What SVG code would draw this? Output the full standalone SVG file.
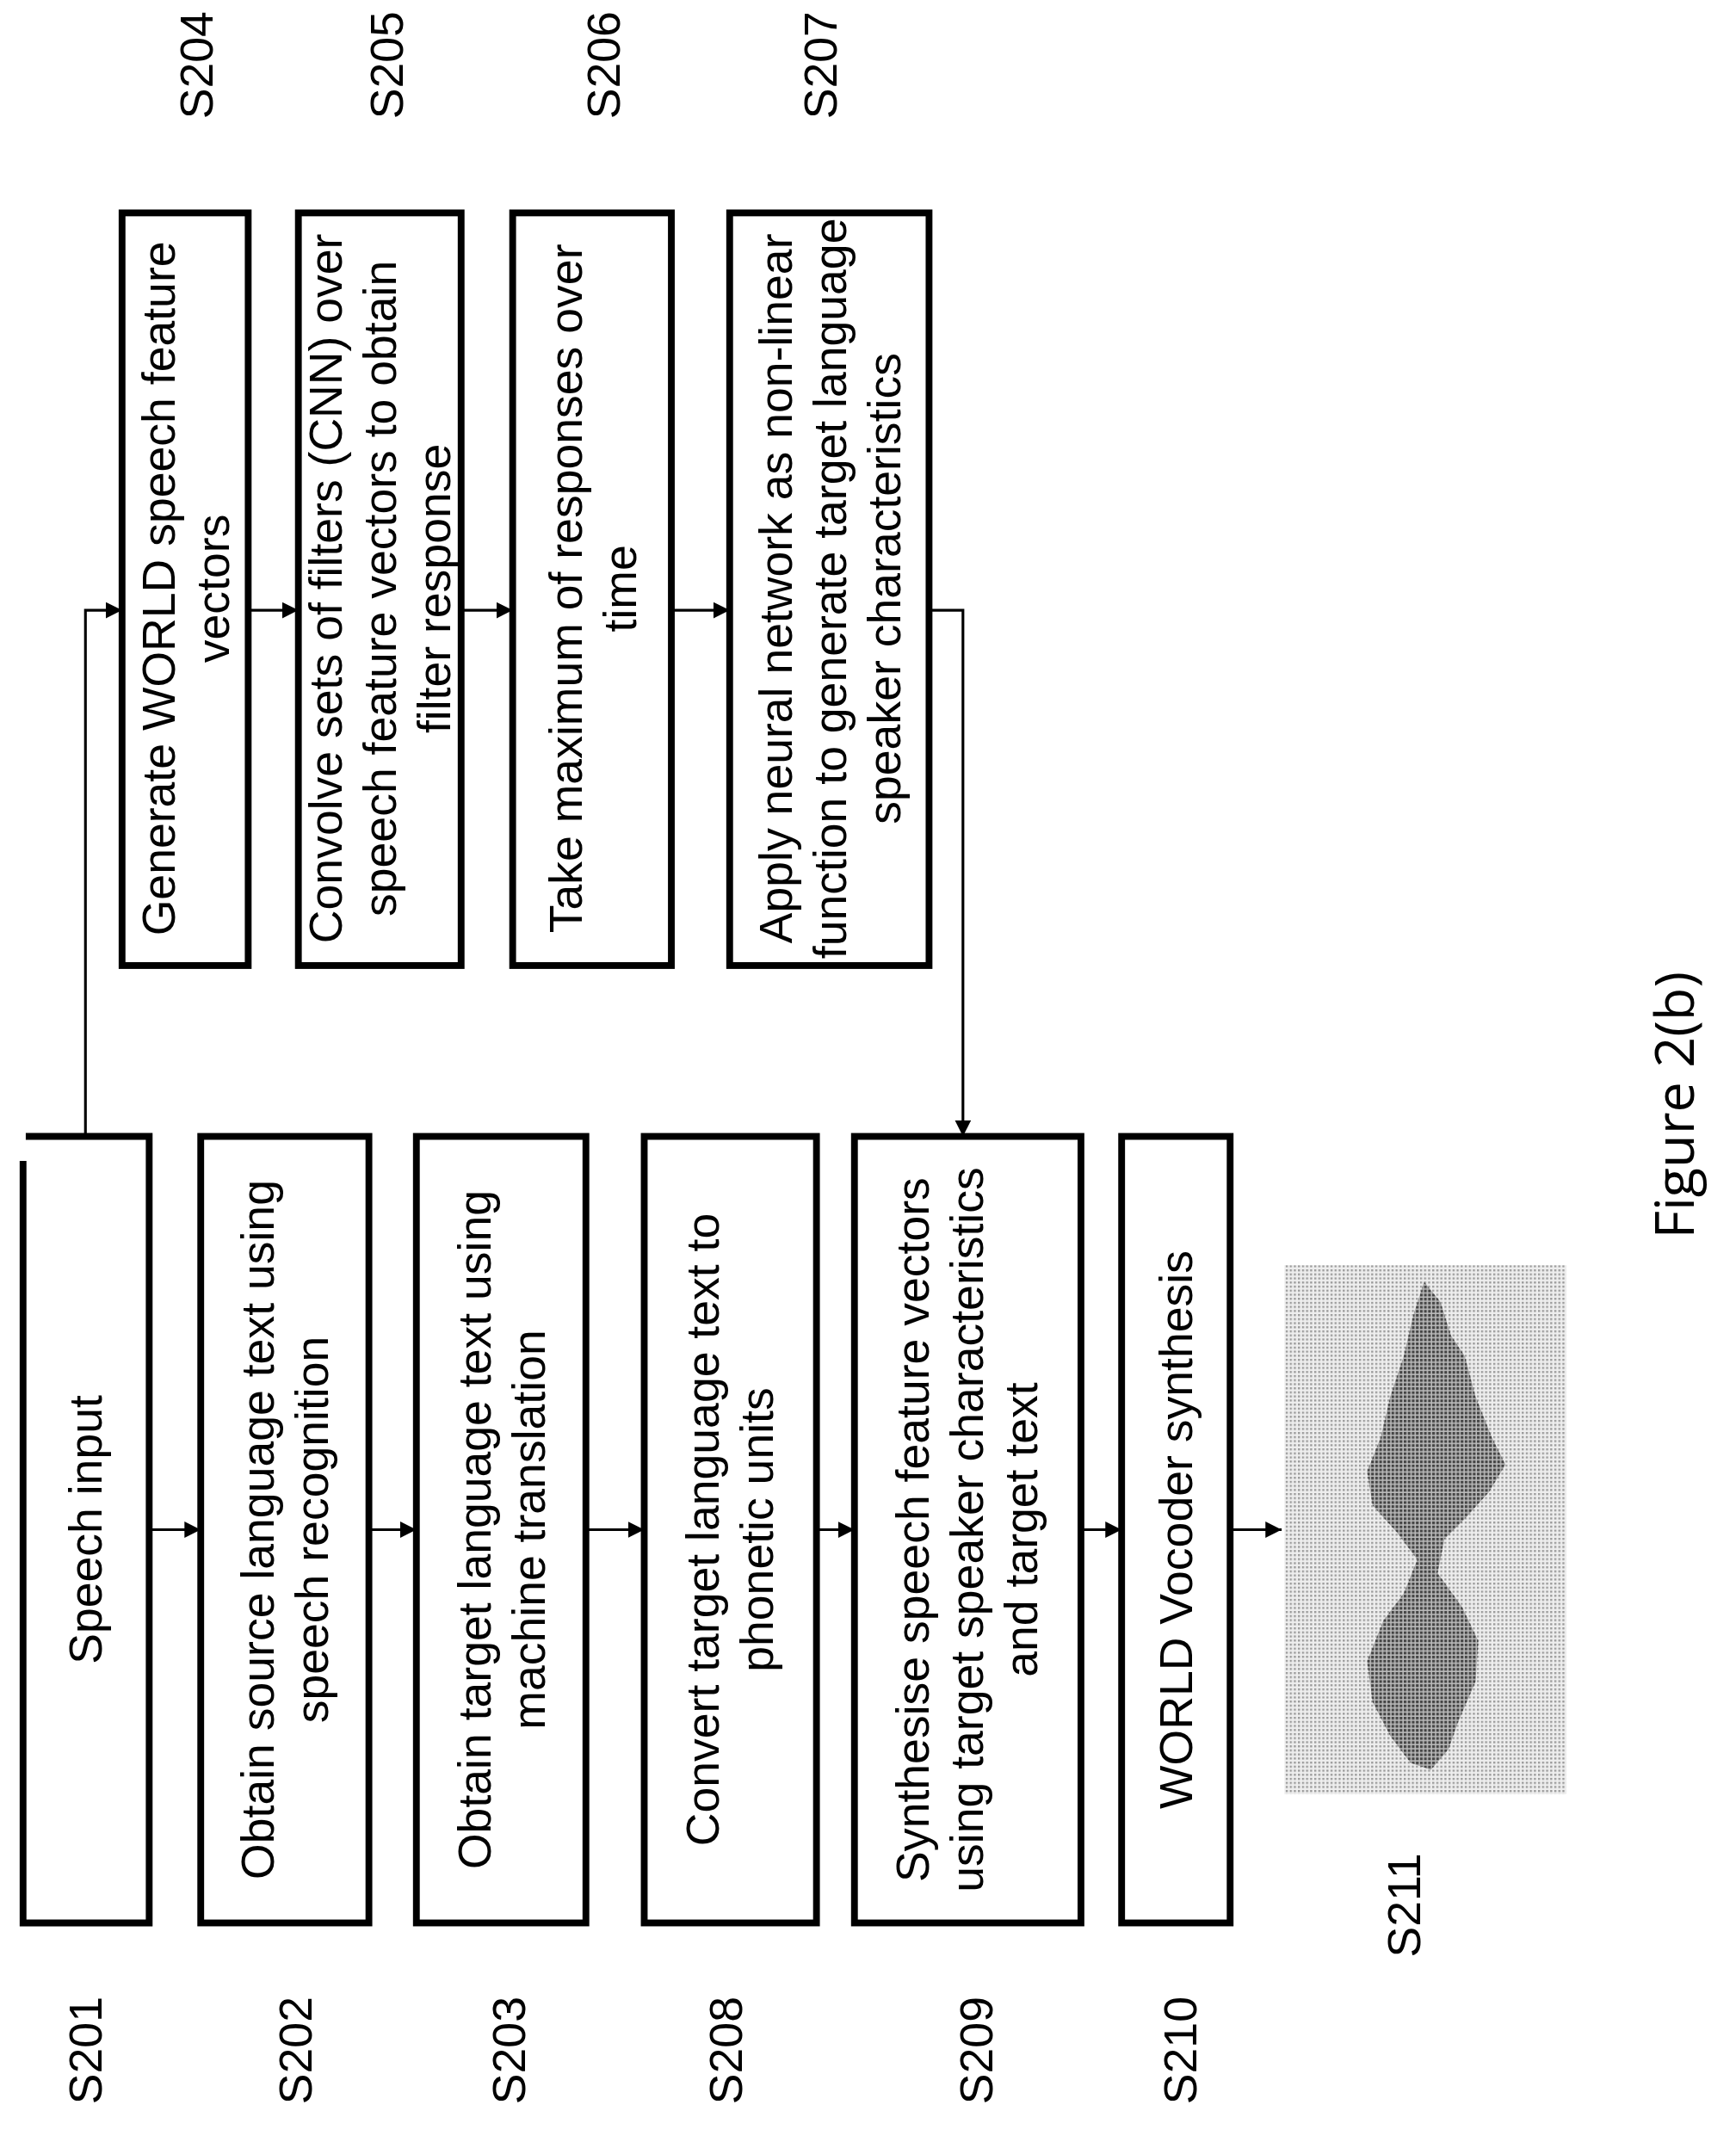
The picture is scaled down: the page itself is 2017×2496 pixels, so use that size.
<svg xmlns="http://www.w3.org/2000/svg" width="2017" height="2496" viewBox="0 0 2017 2496">
<style>
.b{fill:#fff;stroke:#000;stroke-width:5}
.t{font-family:"Liberation Sans",Arial,sans-serif;font-size:34px;text-anchor:middle;fill:#000}
.l{font-family:"Liberation Sans",Arial,sans-serif;font-size:34px;text-anchor:middle;fill:#000}
.c{fill:none;stroke:#000;stroke-width:2}
</style>
<defs>
<marker id="a" viewBox="0 0 10 10" refX="10" refY="5" markerWidth="12" markerHeight="12" markerUnits="userSpaceOnUse" orient="auto"><path d="M0,0L10,5L0,10z"/></marker>
<pattern id="dots" width="3" height="3" patternUnits="userSpaceOnUse"><rect width="3" height="3" fill="#eee"/><rect width="1.5" height="1.5" fill="#999"/></pattern>
<pattern id="dk" width="3" height="3" patternUnits="userSpaceOnUse"><rect width="3" height="3" fill="#bbb"/><rect width="2" height="2" fill="#444"/></pattern>
</defs>
<rect width="2017" height="2496" fill="#fff"/>
<g transform="scale(1.5758)">
<g id="connectors">
<path class="c" d="M63,838V450H90" marker-end="url(#a)"/>
<path class="c" d="M183,450H220" marker-end="url(#a)"/>
<path class="c" d="M340,450H378" marker-end="url(#a)"/>
<path class="c" d="M495,450H538" marker-end="url(#a)"/>
<path class="c" d="M685,450H710V838" marker-end="url(#a)"/>
<path class="c" d="M110,1128H148" marker-end="url(#a)"/>
<path class="c" d="M272,1128H307" marker-end="url(#a)"/>
<path class="c" d="M432,1128H475" marker-end="url(#a)"/>
<path class="c" d="M602,1128H630" marker-end="url(#a)"/>
<path class="c" d="M797,1128H827" marker-end="url(#a)"/>
<path class="c" d="M907,1128H945" marker-end="url(#a)"/>
</g>
<g id="S201"><path d="M19,838H110V1418H17V856" fill="#fff" stroke="#000" stroke-width="5"/>
<text class="t" transform="translate(63,1128) rotate(-90)" y="12">Speech input</text>
<text class="l" transform="translate(63,1512) rotate(-90)" y="12">S201</text></g>
<g id="S202"><rect class="b" x="148" y="838" width="124" height="580"/>
<text class="t" transform="translate(210,1128) rotate(-90)"><tspan x="0" y="-8">Obtain source language text using</tspan><tspan x="0" y="32">speech recognition</tspan></text>
<text class="l" transform="translate(218,1512) rotate(-90)" y="12">S202</text></g>
<g id="S203"><rect class="b" x="307" y="838" width="125" height="580"/>
<text class="t" transform="translate(370,1128) rotate(-90)"><tspan x="0" y="-8">Obtain target language text using</tspan><tspan x="0" y="32">machine translation</tspan></text>
<text class="l" transform="translate(375,1512) rotate(-90)" y="12">S203</text></g>
<g id="S208"><rect class="b" x="475" y="838" width="127" height="580"/>
<text class="t" transform="translate(538,1128) rotate(-90)"><tspan x="0" y="-8">Convert target language text to</tspan><tspan x="0" y="32">phonetic units</tspan></text>
<text class="l" transform="translate(535,1512) rotate(-90)" y="12">S208</text></g>
<g id="S209"><rect class="b" x="630" y="838" width="167" height="580"/>
<text class="t" transform="translate(713,1128) rotate(-90)"><tspan x="0" y="-28">Synthesise speech feature vectors</tspan><tspan x="0" y="12">using target speaker characteristics</tspan><tspan x="0" y="52">and target text</tspan></text>
<text class="l" transform="translate(720,1512) rotate(-90)" y="12">S209</text></g>
<g id="S210"><rect class="b" x="827" y="838" width="80" height="580"/>
<text class="t" transform="translate(867,1128) rotate(-90)" y="12">WORLD Vocoder synthesis</text>
<text class="l" transform="translate(870,1512) rotate(-90)" y="12">S210</text></g>
<g id="S211"><rect x="947" y="933" width="208" height="390" fill="url(#dots)"/>
<path d="M1050,945L1062,960L1070,985L1080,1000L1088,1030L1100,1060L1110,1080L1098,1100L1080,1120L1065,1135L1060,1160L1078,1185L1090,1210L1088,1240L1075,1270L1068,1290L1055,1305L1040,1300L1025,1280L1012,1255L1008,1225L1020,1195L1035,1175L1045,1150L1030,1130L1012,1110L1008,1085L1018,1060L1025,1030L1035,1000L1042,970Z" fill="url(#dk)"/>
<text class="l" transform="translate(1035,1405) rotate(-90)" y="12">S211</text></g>
<g id="S204"><rect class="b" x="90" y="157" width="93" height="555"/>
<text class="t" transform="translate(137,434) rotate(-90)"><tspan x="0" y="-8">Generate WORLD speech feature</tspan><tspan x="0" y="32">vectors</tspan></text>
<text class="l" transform="translate(145,48) rotate(-90)" y="12">S204</text></g>
<g id="S205"><rect class="b" x="220" y="157" width="120" height="555"/>
<text class="t" transform="translate(280,434) rotate(-90)"><tspan x="0" y="-28">Convolve sets of filters (CNN) over</tspan><tspan x="0" y="12">speech feature vectors to obtain</tspan><tspan x="0" y="52">filter response</tspan></text>
<text class="l" transform="translate(285,48) rotate(-90)" y="12">S205</text></g>
<g id="S206"><rect class="b" x="378" y="157" width="117" height="555"/>
<text class="t" transform="translate(437,434) rotate(-90)"><tspan x="0" y="-8">Take maximum of responses over</tspan><tspan x="0" y="32">time</tspan></text>
<text class="l" transform="translate(445,48) rotate(-90)" y="12">S206</text></g>
<g id="S207"><rect class="b" x="538" y="157" width="147" height="555"/>
<text class="t" transform="translate(612,434) rotate(-90)"><tspan x="0" y="-28">Apply neural network as non-linear</tspan><tspan x="0" y="12">function to generate target language</tspan><tspan x="0" y="52">speaker characteristics</tspan></text>
<text class="l" transform="translate(605,48) rotate(-90)" y="12">S207</text></g>
<text transform="translate(1235,815) rotate(-90)" y="14" style="font-family:'Open Sans',sans-serif;font-size:40px;text-anchor:middle">Figure 2(b)</text>
</g>
</svg>
